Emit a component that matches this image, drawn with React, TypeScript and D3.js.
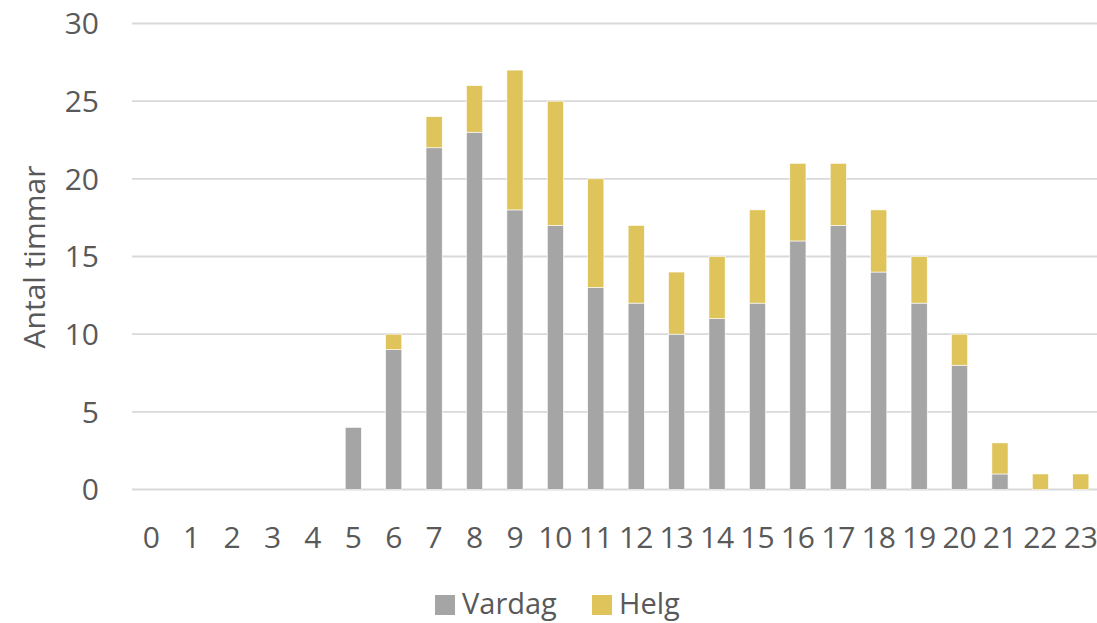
import React from "react";
import * as d3 from "d3";

const hours = ["0","1","2","3","4","5","6","7","8","9","10","11","12","13","14","15","16","17","18","19","20","21","22","23"];
const vardag = [0,0,0,0,0,4,9,22,23,18,17,13,12,10,11,12,16,17,14,12,8,1,0,0];
const helg = [0,0,0,0,0,0,1,2,3,9,8,7,5,4,4,6,5,4,4,3,2,2,1,1];
const yTicks = [0,5,10,15,20,25,30];
const seriesNames = ["Vardag","Helg"];
const colors = ["#A5A5A5","#DFC45B"];

const W = 1097, H = 623;
const FONT = "'Open Sans', sans-serif";
const TXT = "#595959";

export default function App() {
  const x = d3.scaleBand<string>().domain(hours).range([131, 1101]).paddingInner(0.6).paddingOuter(0.3);
  const y = d3.scaleLinear().domain([0, 30]).range([489.5, 23.5]);
  const rows = hours.map((h, i) => ({ hour: h, Vardag: vardag[i], Helg: helg[i] }));
  const stacked = d3.stack<any>().keys(seriesNames)(rows);

  return (
    <svg width={W} height={H} style={{ position: "absolute", left: 0, top: 0, display: "block", background: "#fff" }}>
      {yTicks.map(t => (
        <g key={t}>
          <line x1={132} x2={1097} y1={y(t)} y2={y(t)} stroke="#D9D9D9" strokeWidth={1.8} />
          <text x={99} y={y(t) + 10.7} textAnchor="end" fontFamily={FONT} fontSize={30} fill={TXT}>{t}</text>
        </g>
      ))}
      {stacked.map((s, si) => (
        <g key={si} fill={colors[si]}>
          {s.map((d, i) => {
            const h = y(d[0]) - y(d[1]);
            if (h <= 0) return null;
            return <rect key={i} x={x(hours[i])} y={y(d[1])} width={x.bandwidth()} height={h} stroke="#fff" strokeWidth={0.6} />;
          })}
        </g>
      ))}
      {hours.map(h => (
        <text key={h} x={(x(h) as number) + x.bandwidth() / 2} y={548} textAnchor="middle" fontFamily={FONT} fontSize={30} fill={TXT}>{h}</text>
      ))}
      <text transform={`translate(45,257) rotate(-90)`} textAnchor="middle" fontFamily={FONT} fontSize={30} fill={TXT}>Antal timmar</text>
      <g>
        <rect x={435} y={595} width={20} height={20} fill={colors[0]} />
        <text x={462} y={614} fontFamily={FONT} fontSize={29} fill={TXT}>{seriesNames[0]}</text>
        <rect x={592} y={595} width={20} height={20} fill={colors[1]} />
        <text x={619} y={614} fontFamily={FONT} fontSize={29} fill={TXT}>{seriesNames[1]}</text>
      </g>
    </svg>
  );
}
